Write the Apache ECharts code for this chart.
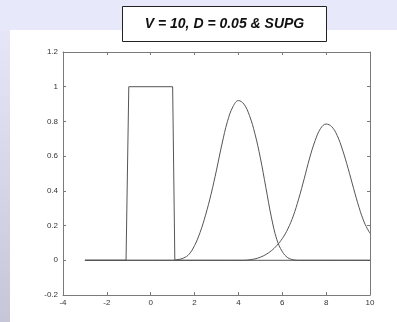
<!DOCTYPE html>
<html><head><meta charset="utf-8">
<script src="https://cdn.jsdelivr.net/npm/echarts@6/dist/echarts.min.js"></script>
<style>html,body{margin:0;padding:0;background:#fff}#c{width:397px;height:322px}</style>
</head><body><div id="c"></div>
<script>
const titleText = 'V = 10, D = 0.05 & SUPG';
const xTicks = [-4, -2, 0, 2, 4, 6, 8, 10];
const yTicks = [-0.2, 0, 0.2, 0.4, 0.6, 0.8, 1, 1.2];

const boxX = [-3, -1.125, -1.0, 1.0, 1.1, 10];
const boxY = [0, 0, 1, 1, 0, 0];

const g1X = [-3, 1.0, 1.25, 1.5, 1.75, 2.0, 2.25, 2.5, 2.75, 3.0, 3.25, 3.5, 3.75, 4.0, 4.25, 4.5, 4.75, 5.0, 5.25, 5.5, 5.75, 6.0, 6.25, 6.5, 6.75, 10];
const g1Y = [0, 0, 0.004, 0.013, 0.035, 0.085, 0.16, 0.26, 0.38, 0.52, 0.67, 0.80, 0.885, 0.92, 0.90, 0.835, 0.73, 0.59, 0.42, 0.25, 0.12, 0.05, 0.015, 0.003, 0, 0];

const g2X = [-3, 4.25, 4.5, 4.75, 5.0, 5.25, 5.5, 5.75, 6.0, 6.25, 6.5, 6.75, 7.0, 7.25, 7.5, 7.75, 8.0, 8.25, 8.5, 8.75, 9.0, 9.25, 9.5, 9.75, 10.0];
const g2Y = [0, 0, 0.003, 0.008, 0.018, 0.033, 0.055, 0.085, 0.125, 0.18, 0.255, 0.355, 0.47, 0.59, 0.69, 0.76, 0.785, 0.77, 0.72, 0.635, 0.53, 0.415, 0.305, 0.215, 0.155];

const pairs = (xs, ys) => xs.map((x, i) => [x, ys[i]]);
const chart = echarts.init(document.getElementById('c'), null, {renderer: 'canvas'});
const axCol = '#7a7a7a';
const lab = {fontFamily: 'Liberation Sans, Arial', fontSize: 8, color: '#333'};
const baseX = {type: 'value', min: -4, max: 10, interval: 2, splitLine: {show: false},
  axisLine: {show: true, onZero: false, lineStyle: {color: axCol, width: 1}},
  axisTick: {show: true, inside: true, length: 3, lineStyle: {color: axCol}}};
const baseY = {type: 'value', min: -0.2, max: 1.2, interval: 0.2, splitLine: {show: false},
  axisLine: {show: true, onZero: false, lineStyle: {color: axCol, width: 1}},
  axisTick: {show: true, inside: true, length: 3, lineStyle: {color: axCol}}};
const line = (d, sm) => ({type: 'line', data: d, showSymbol: false, symbol: 'none', smooth: sm,
  lineStyle: {color: '#555', width: 1}, animation: false, silent: true});

chart.setOption({
  animation: false,
  backgroundColor: '#ffffff',
  graphic: [
    {type: 'rect', shape: {x: 0, y: 0, width: 397, height: 30}, style: {fill: '#e8e8fb'}, z: -10},
    {type: 'rect', shape: {x: 0, y: 30, width: 10, height: 292},
      style: {fill: new echarts.graphic.LinearGradient(0, 0, 0, 1, [{offset: 0, color: '#e6e6f8'}, {offset: 1, color: '#c6c6d8'}])}, z: -10},
    {type: 'rect', shape: {x: 122.5, y: 6.5, width: 204, height: 35}, style: {fill: '#ffffff', stroke: '#222', lineWidth: 1}, z: 10},
    {type: 'text', x: 224.5, y: 24, style: {text: titleText, font: 'italic bold 14px "Liberation Sans", Arial', fill: '#111', textAlign: 'center', textVerticalAlign: 'middle'}, z: 11}
  ],
  grid: {left: 63, right: 27, top: 52, bottom: 27, containLabel: false},
  xAxis: [
    Object.assign({}, baseX, {position: 'bottom', axisLabel: Object.assign({margin: 4}, lab)}),
    Object.assign({}, baseX, {position: 'top', axisLabel: {show: false}})
  ],
  yAxis: [
    Object.assign({}, baseY, {position: 'left', axisLabel: Object.assign({margin: 5}, lab)}),
    Object.assign({}, baseY, {position: 'right', axisLabel: {show: false}})
  ],
  series: [
    line(pairs(boxX, boxY), false),
    line(pairs(g1X, g1Y), 0.4),
    line(pairs(g2X, g2Y), 0.4)
  ]
});
</script></body></html>
